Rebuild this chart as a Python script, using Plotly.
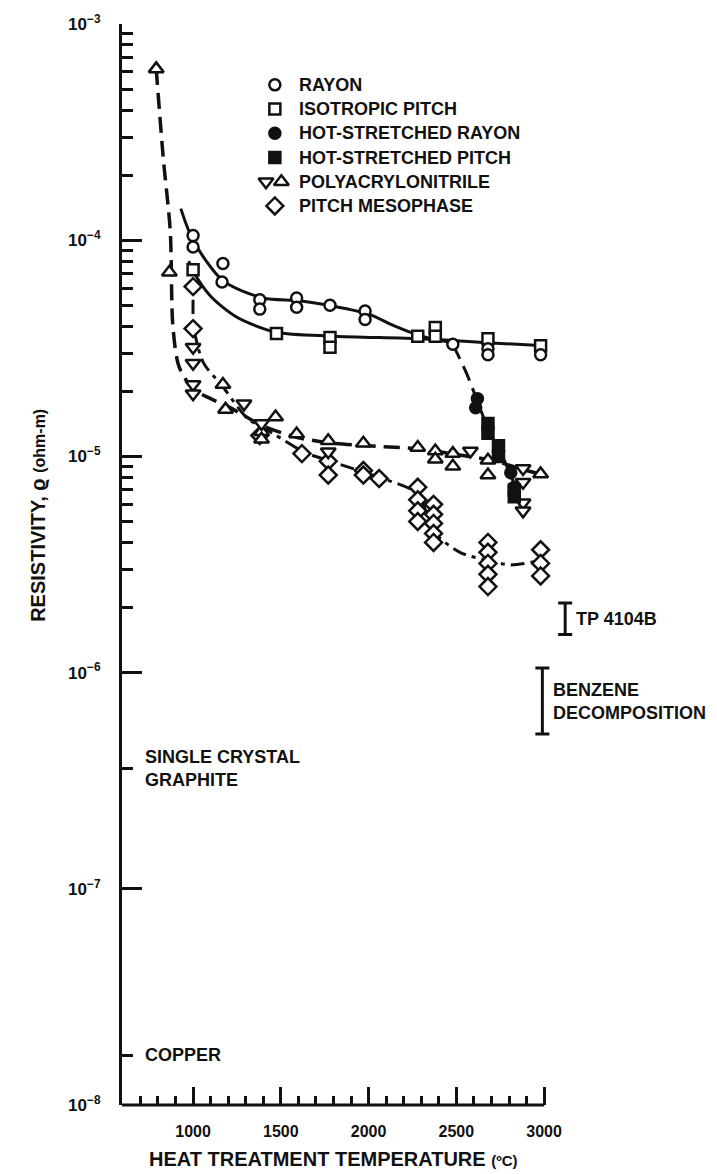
import math
import plotly.graph_objects as go

# ---------------- measured points ----------------
rayon_t = [1000, 1000, 1170, 1165, 1380, 1380, 1590, 1590, 1780, 1980, 1980, 2480, 2680, 2680, 2980]
rayon_v = [1.05e-4, 9.3e-5, 7.8e-5, 6.4e-5, 5.3e-5, 4.8e-5, 5.4e-5, 4.9e-5, 5.0e-5, 4.7e-5, 4.3e-5,
           3.3e-5, 3.15e-5, 2.95e-5, 2.95e-5]

iso_t = [1000, 1475, 1780, 1780, 2280, 2380, 2380, 2680, 2980]
iso_v = [7.3e-5, 3.7e-5, 3.55e-5, 3.2e-5, 3.6e-5, 3.95e-5, 3.6e-5, 3.5e-5, 3.25e-5]

hs_rayon_t = [2620, 2610, 2810, 2830]
hs_rayon_v = [1.85e-5, 1.68e-5, 8.4e-6, 7.2e-6]

hs_pitch_t = [2680, 2680, 2740, 2740, 2830, 2830]
hs_pitch_v = [1.42e-5, 1.28e-5, 1.12e-5, 1.0e-5, 7.0e-6, 6.5e-6]

pan_up_t = [790, 865, 1170, 1185, 1390, 1390, 1470, 1590, 1770, 1970, 2280, 2380, 2380, 2480, 2480,
            2680, 2680, 2980]
pan_up_v = [6.2e-4, 7.1e-5, 2.15e-5, 1.65e-5, 1.3e-5, 1.2e-5, 1.52e-5, 1.27e-5, 1.18e-5, 1.15e-5,
            1.1e-5, 1.06e-5, 9.7e-6, 1.03e-5, 9.0e-6, 9.6e-6, 8.2e-6, 8.3e-6]

pan_dn_t = [1000, 1000, 1000, 1000, 1290, 1390, 1770, 2580, 2880, 2880, 2880, 2880]
pan_dn_v = [3.2e-5, 2.7e-5, 2.15e-5, 1.95e-5, 1.75e-5, 1.42e-5, 1.05e-5, 1.06e-5, 8.8e-6, 7.6e-6,
            6.1e-6, 5.6e-6]

meso_t = [1000, 1000, 1380, 1620, 1770, 1770, 1970, 1970, 2060, 2280, 2280, 2280, 2280,
          2370, 2370, 2370, 2370, 2370, 2680, 2680, 2680, 2680, 2680, 2980, 2980, 2980]
meso_v = [6.1e-5, 3.9e-5, 1.25e-5, 1.03e-5, 9.5e-6, 8.2e-6, 8.6e-6, 8.2e-6, 7.9e-6,
          7.2e-6, 6.3e-6, 5.6e-6, 5.0e-6, 6.0e-6, 5.4e-6, 4.9e-6, 4.4e-6, 4.0e-6,
          4.0e-6, 3.6e-6, 3.2e-6, 2.85e-6, 2.5e-6, 3.7e-6, 3.2e-6, 2.8e-6]

# ---------------- faired curves ----------------
rayon_fit_t = [930, 1000, 1170, 1400, 1600, 1800, 2000, 2150, 2300, 2480]
rayon_fit_v = [1.4e-4, 1.0e-4, 6.5e-5, 5.4e-5, 5.25e-5, 4.95e-5, 4.55e-5, 4.0e-5, 3.6e-5, 3.35e-5]

rayon_hs_fit_t = [2480, 2560, 2620, 2680, 2750, 2820, 2850]
rayon_hs_fit_v = [3.3e-5, 2.4e-5, 1.8e-5, 1.35e-5, 1.05e-5, 7.8e-6, 6.5e-6]

iso_fit_t = [975, 1000, 1100, 1250, 1475, 1800, 2300, 2700, 3000]
iso_fit_v = [8.0e-5, 7.2e-5, 5.5e-5, 4.4e-5, 3.75e-5, 3.6e-5, 3.5e-5, 3.35e-5, 3.25e-5]

pan_fit_t = [790, 830, 870, 885, 920, 1000, 1100, 1200, 1400, 1600, 1800, 2000, 2300, 2500,
             2700, 2900, 3000]
pan_fit_v = [6.2e-4, 2.4e-4, 1.1e-4, 4.0e-5, 2.6e-5, 2.05e-5, 1.85e-5, 1.7e-5, 1.38e-5, 1.22e-5,
             1.15e-5, 1.12e-5, 1.08e-5, 1.02e-5, 9.6e-6, 8.6e-6, 8.2e-6]

meso_fit_t = [1000, 1005, 1060, 1160, 1310, 1460, 1630, 1780, 2060, 2280, 2370, 2520, 2680,
              2810, 2980]
meso_fit_v = [5.3e-5, 3.9e-5, 2.7e-5, 2.15e-5, 1.5e-5, 1.27e-5, 1.05e-5, 9.5e-6, 8.0e-6,
              6.7e-6, 4.5e-6, 3.6e-6, 3.3e-6, 3.15e-6, 3.3e-6]

# ---------------- reference bands ----------------
band_names = ["TP 4104B", "BENZENE<br>DECOMPOSITION"]
band_t = [3120, 2990]
band_lo = [1.5e-6, 5.2e-7]
band_hi = [2.1e-6, 1.05e-6]

# reference materials marked on the resistivity axis
mat_names = ["SINGLE CRYSTAL<br>GRAPHITE", "COPPER"]
mat_v = [3.6e-7, 1.7e-8]

# ---------------- axes ----------------
x_major = [1000, 1500, 2000, 2500, 3000]
x_minor = [t for t in range(700, 3000, 100) if t % 500 != 0]
y_major = [1e-8, 1e-7, 1e-6, 1e-5, 1e-4, 1e-3]
y_major_text = ["10<sup>−8</sup>", "10<sup>−7</sup>", "10<sup>−6</sup>", "10<sup>−5</sup>",
                "10<sup>−4</sup>", "10<sup>−3</sup>"]
y_minor = [k * 10.0 ** e for e in (-6, -5, -4) for k in range(2, 10)] + mat_v

legend_names = ["RAYON", "ISOTROPIC PITCH", "HOT-STRETCHED RAYON", "HOT-STRETCHED PITCH",
                "POLYACRYLONITRILE", "PITCH MESOPHASE"]

BLACK = "#111111"
FONT = "Liberation Sans, Arial, Helvetica, sans-serif"


def bold(size):
    return dict(family=FONT, size=size, color=BLACK, weight="bold")


fig = go.Figure()


def curve(t, v, dash="solid", width=3):
    fig.add_trace(go.Scatter(x=t, y=v, mode="lines", hoverinfo="skip", showlegend=False,
                             line=dict(color=BLACK, width=width, dash=dash,
                                       shape="spline", smoothing=0.8)))


def points(t, v, symbol, filled, size=11, xaxis="x", yaxis="y"):
    fig.add_trace(go.Scatter(x=t, y=v, mode="markers", showlegend=False, xaxis=xaxis, yaxis=yaxis,
                             marker=dict(symbol=symbol, size=size,
                                         color=BLACK if filled else "white",
                                         line=dict(color=BLACK, width=2.5))))


DASH = "16px,8px"
DASHDOT = "14px,6px,4px,6px"

curve(rayon_fit_t, rayon_fit_v)
curve(rayon_hs_fit_t, rayon_hs_fit_v, dash=DASH)
curve(iso_fit_t, iso_fit_v)
curve(pan_fit_t, pan_fit_v, dash=DASH, width=3.5)
curve(meso_fit_t, meso_fit_v, dash=DASHDOT)

points(meso_t, meso_v, "diamond", False, size=13)
points(pan_up_t, pan_up_v, "triangle-up", False, size=13)
points(pan_dn_t, pan_dn_v, "triangle-down", False, size=13)
points(iso_t, iso_v, "square", False, size=11)
points(rayon_t, rayon_v, "circle", False, size=11)
points(hs_rayon_t, hs_rayon_v, "circle", True, size=11)
points(hs_pitch_t, hs_pitch_v, "square", True, size=11)

# reference ranges drawn as capped bars
for name, t, lo, hi in zip(band_names, band_t, band_lo, band_hi):
    mid = (lo * hi) ** 0.5
    fig.add_trace(go.Scatter(
        x=[t], y=[mid], mode="markers", showlegend=False, hoverinfo="skip",
        marker=dict(size=1, color="rgba(0,0,0,0)"),
        error_y=dict(type="data", symmetric=False, array=[hi - mid], arrayminus=[mid - lo],
                     color=BLACK, thickness=3, width=7)))
    # annotation positions on a log axis are given as log10 values
    fig.add_annotation(x=t, y=math.log10(mid), xref="x", yref="y", text=name, showarrow=False,
                       xanchor="left", yanchor="middle", align="left", xshift=9,
                       font=bold(18))

for name, v in zip(mat_names, mat_v):
    fig.add_annotation(x=0, y=math.log10(v), xref="paper", yref="y", text=name, showarrow=False,
                       xanchor="left", yanchor="middle", align="left", xshift=21,
                       font=bold(18))

# ---------------- key (overlay axes in plot fractions) ----------------
key_x = 0.328
key_text_x = 0.3755
key_rows = [0.9437 - 0.0224 * i for i in range(len(legend_names))]
points([key_x], [key_rows[0]], "circle", False, 11, "x2", "y2")
points([key_x], [key_rows[1]], "square", False, 11, "x2", "y2")
points([key_x], [key_rows[2]], "circle", True, 11, "x2", "y2")
points([key_x], [key_rows[3]], "square", True, 11, "x2", "y2")
points([key_x - 0.019], [key_rows[4]], "triangle-down", False, 13, "x2", "y2")
points([key_x + 0.014], [key_rows[4]], "triangle-up", False, 13, "x2", "y2")
points([key_x], [key_rows[5]], "diamond", False, 13, "x2", "y2")
for name, ry in zip(legend_names, key_rows):
    fig.add_annotation(x=key_text_x, y=ry, xref="x2", yref="y2", text=name, showarrow=False,
                       xanchor="left", yanchor="middle", font=bold(18))

# bottom axis line stops at the last labelled temperature
fig.add_shape(type="line", xref="x", yref="paper", x0=595, x1=3000, y0=0, y1=0,
              line=dict(color=BLACK, width=3))

# axis titles
fig.add_annotation(x=1800, y=0, xref="x", yref="paper", yanchor="middle", yshift=-54,
                   text="HEAT TREATMENT TEMPERATURE <span style='font-size:15px'>(ºC)</span>",
                   showarrow=False, font=bold(20))
fig.add_annotation(x=0, y=0.545, xref="paper", yref="paper", xshift=-97, textangle=-90,
                   text="RESISTIVITY, ϱ <span style='font-size:16px'>(ohm-m)</span>",
                   showarrow=False, font=bold(20))

fig.update_layout(
    width=717, height=1174,
    margin=dict(l=122, r=129, t=22, b=69),
    paper_bgcolor="white", plot_bgcolor="white",
    showlegend=False,
    xaxis=dict(range=[595, 3250], showline=False, showgrid=False, zeroline=False,
               ticks="inside", tickmode="array", tickvals=x_major,
               ticktext=[str(v) for v in x_major], ticklen=18, tickwidth=3, tickcolor=BLACK,
               tickfont=bold(16), ticklabelstandoff=15,
               minor=dict(ticks="inside", tickmode="array", tickvals=x_minor, ticklen=9,
                          tickwidth=2.5, tickcolor=BLACK, showgrid=False)),
    yaxis=dict(type="log", range=[-8, -3], showline=True, linewidth=3, linecolor=BLACK,
               showgrid=False, zeroline=False, ticks="inside", tickmode="array",
               tickvals=y_major, ticktext=y_major_text, ticklen=20, tickwidth=3,
               tickcolor=BLACK, tickfont=bold(17), ticklabelstandoff=15,
               minor=dict(ticks="inside", tickmode="array", tickvals=y_minor, ticklen=11,
                          tickwidth=2.5, tickcolor=BLACK, showgrid=False)),
    xaxis2=dict(overlaying="x", range=[0, 1], visible=False),
    yaxis2=dict(overlaying="y", range=[0, 1], visible=False),
)

fig.write_html("out.html")
